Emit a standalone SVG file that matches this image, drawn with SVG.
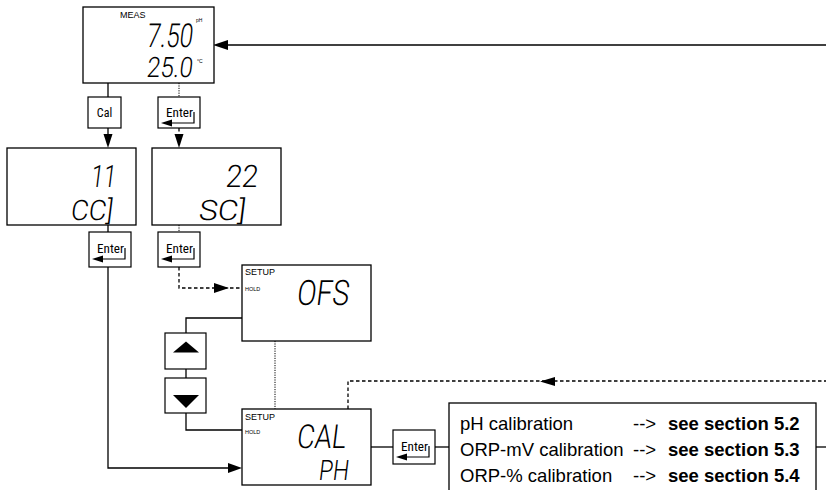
<svg xmlns="http://www.w3.org/2000/svg" width="826" height="490" viewBox="0 0 826 490">
<style>
.box{fill:#fff;stroke:#000;stroke-width:1.3}
.key{fill:#fff;stroke:#000;stroke-width:1.2}
.ln{fill:none;stroke:#000;stroke-width:1.3}
.dash{fill:none;stroke:#000;stroke-width:1.3;stroke-dasharray:3.5 2.5}
.dot{fill:none;stroke:#000;stroke-width:1;stroke-dasharray:1.2 1.2}
.seg{font-family:Roboto,"DejaVu Sans",sans-serif;font-weight:300;fill:#000}
.lbl{font-family:"Liberation Sans",Arial,sans-serif;fill:#000}
.k{font-family:"Roboto Condensed","Liberation Sans Narrow","Liberation Sans",sans-serif;font-size:12px;fill:#000}
.t{font-family:"Liberation Sans",Arial,sans-serif;font-size:18.5px;fill:#000}
.tb{font-family:"Liberation Sans",Arial,sans-serif;font-size:18.5px;font-weight:bold;fill:#000}
</style>
<defs>
<g id="enterGlyph">
<text class="k" x="8" y="20" textLength="27" lengthAdjust="spacingAndGlyphs">Enter</text>
<path d="M36,15 V26 H12" fill="none" stroke="#000" stroke-width="1.2"/>
<path d="M3,26 L14,22.5 L14,29.5 Z" fill="#000"/>
</g>
</defs>

<g id="connectors">
<path class="ln" d="M826,45 H226"/>
<path d="M213,45 L228,40 L228,50 Z"/>
<path class="ln" d="M108,83 V97"/>
<path class="dot" d="M179,83 V97"/>
<path class="ln" d="M108,128 V136"/>
<path d="M108,148 L103.5,134 L112.5,134 Z"/>
<path class="dash" d="M179,128 V136"/>
<path d="M179,148 L174.5,134 L183.5,134 Z"/>
<path class="ln" d="M108,225 V232"/>
<path class="dot" d="M179,225 V232"/>
<path class="dash" d="M179,267 V288 H242"/>
<path d="M229,288 L214,283 L214,293 Z"/>
<path class="ln" d="M242,318 H186 V333"/>
<path class="ln" d="M186,369 V378"/>
<path class="ln" d="M186,413 V430 H242"/>
<path class="dot" d="M275,341 V409"/>
<path class="ln" d="M108,267 V468 H230"/>
<path d="M242,468 L228,463 L228,473 Z"/>
<path class="dash" d="M348,409 V381 H826"/>
<path d="M540,381.5 L555,377 L555,386 Z"/>
<path class="ln" d="M371,447 H393"/>
<path class="ln" d="M435,447 H449"/>
<path class="ln" d="M816,447 H826"/>
</g>

<g id="display-meas">
<rect class="box" x="83" y="7" width="131" height="76"/>
<text class="lbl" x="120" y="18" font-size="9">MEAS</text>
<text class="seg" transform="translate(146,47) skewX(-7)" font-size="33" textLength="46" lengthAdjust="spacingAndGlyphs">7.50</text>
<text class="lbl" x="196" y="22" font-size="5">pH</text>
<text class="seg" transform="translate(146,77) skewX(-7)" font-size="28" textLength="46" lengthAdjust="spacingAndGlyphs">25.0</text>
<text class="lbl" x="197" y="63" font-size="5">°C</text>
</g>

<g id="key-cal">
<rect class="key" x="88" y="97" width="33" height="31"/>
<text class="k" x="104.5" y="117" text-anchor="middle">Cal</text>
</g>

<g id="key-enter-1">
<rect class="key" x="158" y="97" width="42" height="31"/>
<use href="#enterGlyph" x="158" y="97"/>
</g>

<g id="display-11">
<rect class="box" x="7" y="148" width="129" height="77"/>
<text class="seg" transform="translate(90,187) skewX(-7)" font-size="31" textLength="25" lengthAdjust="spacingAndGlyphs">11</text>
<text class="seg" transform="translate(70,220) skewX(-7)" font-size="28" textLength="42" lengthAdjust="spacingAndGlyphs">CC]</text>
</g>

<g id="display-22">
<rect class="box" x="152" y="148" width="129" height="77"/>
<text class="seg" transform="translate(225,187) skewX(-7)" font-size="31" textLength="32" lengthAdjust="spacingAndGlyphs">22</text>
<text class="seg" transform="translate(198,220) skewX(-7)" font-size="28" textLength="47" lengthAdjust="spacingAndGlyphs">SC]</text>
</g>

<g id="key-enter-2">
<rect class="key" x="89" y="232" width="42" height="35"/>
<use href="#enterGlyph" x="89" y="233"/>
</g>

<g id="key-enter-3">
<rect class="key" x="158" y="232" width="42" height="35"/>
<use href="#enterGlyph" x="158" y="233"/>
</g>

<g id="display-ofs">
<rect class="box" x="242" y="265" width="129" height="76"/>
<text class="lbl" x="245" y="275" font-size="9">SETUP</text>
<text class="lbl" x="245" y="291" font-size="5.5">HOLD</text>
<text class="seg" transform="translate(296,305) skewX(-7)" font-size="35" textLength="52" lengthAdjust="spacingAndGlyphs">OFS</text>
</g>

<g id="key-up">
<rect class="key" x="165" y="333" width="41" height="36"/>
<path d="M186,341.5 L173,352.5 L199,352.5 Z"/>
</g>

<g id="key-down">
<rect class="key" x="165" y="378" width="41" height="35"/>
<path d="M173,395 L199,395 L186,408 Z"/>
</g>

<g id="display-cal">
<rect class="box" x="242" y="409" width="129" height="76"/>
<text class="lbl" x="245" y="420" font-size="9">SETUP</text>
<text class="lbl" x="245" y="434" font-size="5.5">HOLD</text>
<text class="seg" transform="translate(296,448) skewX(-7)" font-size="33" textLength="49" lengthAdjust="spacingAndGlyphs">CAL</text>
<text class="seg" transform="translate(318,480) skewX(-7)" font-size="28" textLength="30" lengthAdjust="spacingAndGlyphs">PH</text>
</g>

<g id="key-enter-4">
<rect class="key" x="393" y="430" width="42" height="34"/>
<use href="#enterGlyph" x="393" y="431"/>
</g>

<g id="info-box">
<rect class="box" x="449" y="403" width="367" height="100"/>
<text class="t" x="460" y="430">pH calibration</text>
<text class="t" x="633" y="430">--&gt;</text>
<text class="tb" x="668" y="430">see section 5.2</text>
<text class="t" x="460" y="456">ORP-mV calibration</text>
<text class="t" x="633" y="456">--&gt;</text>
<text class="tb" x="668" y="456">see section 5.3</text>
<text class="t" x="460" y="482">ORP-% calibration</text>
<text class="t" x="633" y="482">--&gt;</text>
<text class="tb" x="668" y="482">see section 5.4</text>
</g>
</svg>
